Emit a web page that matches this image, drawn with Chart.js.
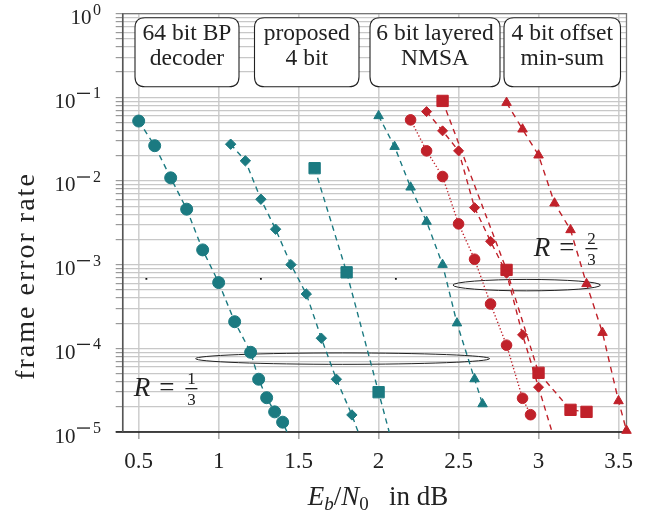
<!DOCTYPE html>
<html><head><meta charset="utf-8">
<script src="https://cdn.jsdelivr.net/npm/chart.js@4.4.0/dist/chart.umd.min.js"></script>
<style>html,body{margin:0;padding:0;background:#fff;overflow:hidden}#wrap{width:649px;height:513px}</style>
</head><body><div id="wrap"><canvas id="c" width="649" height="513"></canvas></div>
<script>
// ---------- data ----------
const xTicks = [0.5, 1, 1.5, 2, 2.5, 3, 3.5];
const xTickLabels = ['0.5', '1', '1.5', '2', '2.5', '3', '3.5'];
const yTickExponents = [0, -1, -2, -3, -4, -5];
const yTickLabels = ['10^0', '10^-1', '10^-2', '10^-3', '10^-4', '10^-5'];

// R = 1/3 (teal)
const snrBP13   = [0.5, 0.6, 0.7, 0.8, 0.9, 1.0, 1.1, 1.2, 1.25, 1.3, 1.35, 1.4, 1.45];
const ferBP13   = [0.052, 0.0264, 0.0109, 0.0046, 0.0015, 6.1e-4, 2.08e-4, 8.97e-5, 4.27e-5, 2.57e-5, 1.74e-5, 1.31e-5, 8e-6];
const snrProp13 = [1.075, 1.167, 1.264, 1.356, 1.452, 1.548, 1.642, 1.736, 1.833, 1.93];
const ferProp13 = [0.0275, 0.0174, 0.00605, 0.00265, 0.001, 4.46e-4, 1.32e-4, 4.27e-5, 1.6e-5, 5e-6];
const snrNMSA13 = [1.6, 1.8, 2.0, 2.2];
const ferNMSA13 = [0.0142, 8.1e-4, 2.99e-5, 1.1e-6];
const snrOMS13  = [2.0, 2.1, 2.2, 2.3, 2.4, 2.49, 2.6, 2.65];
const ferOMS13  = [0.0599, 0.0257, 0.0084, 0.00327, 0.001, 2.0e-4, 4.3e-5, 2.16e-5];

// R = 2/3 (red)
const snrBP23   = [2.2, 2.3, 2.4, 2.5, 2.6, 2.7, 2.8, 2.9, 2.95];
const ferBP23   = [0.0537, 0.0229, 0.0113, 0.00307, 0.00116, 3.39e-4, 1.09e-4, 2.53e-5, 1.61e-5];
const snrProp23 = [2.3, 2.4, 2.5, 2.6, 2.7, 2.8, 2.9, 3.0, 3.1];
const ferProp23 = [0.0674, 0.0397, 0.0229, 0.0048, 0.0019, 7.9e-4, 1.45e-4, 3.43e-5, 8e-6];
const snrNMSA23 = [2.4, 2.8, 3.0, 3.2, 3.3];
const ferNMSA23 = [0.0905, 8.65e-4, 5.1e-5, 1.84e-5, 1.74e-5];
const snrOMS23  = [2.8, 2.9, 3.0, 3.1, 3.2, 3.3, 3.4, 3.5, 3.55];
const ferOMS23  = [0.0863, 0.0415, 0.0203, 0.00542, 0.0026, 5.9e-4, 1.54e-4, 2.35e-5, 1.04e-5];

// small stray marks in the reference
const dotSnr = [0.548, 1.264, 2.108];
const dotFer = [6.75e-4, 6.75e-4, 6.75e-4];

// legend box texts
const legendTexts = [['64 bit BP', 'decoder'], ['proposed', '4 bit'], ['6 bit layered', 'NMSA'], ['4 bit offset', 'min-sum']];
// ellipses grouping the code rates: centre snr, centre fer, half width in dB
const groupSnr = [1.775, 2.926];
const groupFer = [7.53e-5, 5.69e-4];
const groupHalfWidth = [0.919, 0.461];
const rateNum = ['1', '2'];
const rateDen = ['3', '3'];

// ---------- styling ----------
const TEAL = '#1b7a81';
const RED = '#c0212a';
const SERIF = '"Liberation Serif", "DejaVu Serif", serif';

function pts(xs, ys) { return xs.map((v, i) => ({ x: v, y: ys[i] })); }
function series(xs, ys, color, style, r, dash, clipBottom) {
  return {
    data: pts(xs, ys), borderColor: color, backgroundColor: color,
    pointStyle: style, pointRadius: r, pointBorderWidth: 1, pointBorderColor: color,
    pointBackgroundColor: color, borderWidth: 1.4, borderDash: dash, tension: 0,
    fill: false, clip: { left: 12, right: 12, top: 12, bottom: clipBottom ? 0 : 12 }
  };
}
const DASH = [5.5, 4.5];
const datasets = [
  series(snrBP13, ferBP13, TEAL, 'circle', 6, DASH, true),
  series(snrProp13, ferProp13, TEAL, 'rectRot', 5.2, DASH, true),
  series(snrNMSA13, ferNMSA13, TEAL, 'rect', 8, DASH, true),
  series(snrOMS13, ferOMS13, TEAL, 'triangle', 5.5, DASH, false),
  series(snrBP23, ferBP23, RED, 'circle', 5.3, [1.3, 2.2], false),
  series(snrProp23, ferProp23, RED, 'rectRot', 5, DASH, true),
  series(snrNMSA23, ferNMSA23, RED, 'rect', 8, DASH, false),
  series(snrOMS23, ferOMS23, RED, 'triangle', 5.5, [6, 5], false),
  { data: pts(dotSnr, dotFer), showLine: false, pointStyle: 'rect', pointRadius: 1.3,
    pointBorderWidth: 0, pointBackgroundColor: '#111', borderColor: '#111' }
];

function drawRate(ctx, left, base, num, den) {
  ctx.fillStyle = '#222';
  ctx.textBaseline = 'alphabetic';
  ctx.textAlign = 'left';
  ctx.font = 'italic 27px ' + SERIF;
  ctx.fillText('R', left, base);
  const wR = ctx.measureText('R').width;
  ctx.font = '27px ' + SERIF;
  ctx.fillText('=', left + wR + 9, base);
  const wE = ctx.measureText('=').width;
  const fx = left + wR + 9 + wE + 11;
  ctx.font = '17px ' + SERIF;
  ctx.textAlign = 'center';
  const fw = 12;
  ctx.fillText(num, fx + fw / 2, base - 12);
  ctx.fillText(den, fx + fw / 2, base + 9);
  ctx.fillRect(fx, base - 8, fw, 1.3);
}

function roundRect(ctx, x, y, w, h, r) {
  ctx.beginPath();
  ctx.moveTo(x + r, y); ctx.lineTo(x + w - r, y); ctx.quadraticCurveTo(x + w, y, x + w, y + r);
  ctx.lineTo(x + w, y + h - r); ctx.quadraticCurveTo(x + w, y + h, x + w - r, y + h);
  ctx.lineTo(x + r, y + h); ctx.quadraticCurveTo(x, y + h, x, y + h - r);
  ctx.lineTo(x, y + r); ctx.quadraticCurveTo(x, y, x + r, y); ctx.closePath();
}

const overlay = {
  id: 'overlay',
  beforeDatasetsDraw(chart) {
    const { ctx, chartArea: a, scales: { x, y } } = chart;
    ctx.save();
    // frame
    ctx.lineWidth = 1.3;
    ctx.strokeStyle = '#777';
    ctx.beginPath();
    ctx.moveTo(a.left, a.bottom); ctx.lineTo(a.left, a.top); ctx.lineTo(a.right, a.top); ctx.lineTo(a.right, a.bottom);
    ctx.stroke();
    ctx.strokeStyle = '#111';
    ctx.lineWidth = 1.5;
    ctx.beginPath(); ctx.moveTo(a.left - 7, a.bottom); ctx.lineTo(a.right, a.bottom); ctx.stroke();
    ctx.strokeStyle = '#555';
    ctx.beginPath(); ctx.moveTo(a.left, a.bottom); ctx.lineTo(a.left, a.top); ctx.stroke();
    // ellipses
    ctx.strokeStyle = '#222';
    ctx.lineWidth = 1;
    groupSnr.forEach((s, i) => {
      const cx = x.getPixelForValue(s), cy = y.getPixelForValue(groupFer[i]);
      const rx = x.getPixelForValue(s + groupHalfWidth[i]) - cx;
      ctx.beginPath(); ctx.ellipse(cx, cy, rx, 5.7, 0, 0, Math.PI * 2); ctx.stroke();
    });
    // code rate labels
    drawRate(ctx, a.left + 11, 396, rateNum[0], rateDen[0]);
    drawRate(ctx, a.left + 411, 256, rateNum[1], rateDen[1]);
    ctx.restore();
  },
  afterDatasetsDraw(chart) {
    const { ctx } = chart;
    ctx.save();
    const boxes = [[135, 239], [254.5, 359], [370, 500], [504, 620.5]];
    ctx.font = '23.5px ' + SERIF;
    ctx.textAlign = 'center';
    ctx.textBaseline = 'alphabetic';
    boxes.forEach((b, i) => {
      roundRect(ctx, b[0], 17.7, b[1] - b[0], 69, 10);
      ctx.fillStyle = '#fff'; ctx.fill();
      ctx.strokeStyle = '#222'; ctx.lineWidth = 1.1; ctx.stroke();
      ctx.fillStyle = '#222';
      const cx = (b[0] + b[1]) / 2;
      ctx.fillText(legendTexts[i][0], cx, 39.5);
      ctx.fillText(legendTexts[i][1], cx, 65);
    });
    ctx.restore();
  },
  afterDraw(chart) {
    const { ctx, scales: { y } } = chart;
    ctx.save();
    ctx.fillStyle = '#222';
    ctx.textBaseline = 'alphabetic';
    // y tick labels 10^k (base and exponent parts of yTickLabels)
    yTickLabels.forEach((lab, i) => {
      const [base, expo] = lab.split('^');
      const py = y.getPixelForValue(Math.pow(10, yTickExponents[i]));
      const right = 101;
      ctx.font = '16px ' + SERIF;
      ctx.textAlign = 'right';
      const digits = expo.replace('-', '');
      ctx.fillText(digits, right, py + 1);
      let ew = ctx.measureText(digits).width;
      if (expo.startsWith('-')) {
        ctx.fillRect(right - ew - 3 - 13, py - 4.6, 13, 1.3);
        ew += 16;
      }
      ctx.font = '21px ' + SERIF;
      ctx.fillText(base, right - ew - 1.5, py + 10.5);
    });
    // y title
    ctx.save();
    ctx.translate(34, 276);
    ctx.rotate(-Math.PI / 2);
    ctx.textAlign = 'center';
    ctx.font = '28px ' + SERIF;
    try { ctx.letterSpacing = '2px'; } catch (e) {}
    ctx.fillText('frame error rate', 0, 0);
    try { ctx.letterSpacing = '0px'; } catch (e) {}
    ctx.restore();
    // x title  E_b/N_0 in dB
    const parts = [
      ['italic 27px ' + SERIF, 'E', 0],
      ['italic 19px ' + SERIF, 'b', 4.5],
      ['27px ' + SERIF, '/', 0],
      ['italic 27px ' + SERIF, 'N', 0],
      ['19px ' + SERIF, '0', 4.5],
      ['27px ' + SERIF, '\u2002 in dB', 0]
    ];
    let total = 0;
    parts.forEach(p => { ctx.font = p[0]; total += ctx.measureText(p[1]).width; });
    let px = 378 - total / 2;
    ctx.textAlign = 'left';
    parts.forEach(p => { ctx.font = p[0]; ctx.fillText(p[1], px, 505 + p[2]); px += ctx.measureText(p[1]).width; });
    ctx.restore();
  }
};

new Chart(document.getElementById('c'), {
  type: 'line',
  data: { datasets },
  options: {
    responsive: false, animation: false, events: [],
    layout: { padding: { left: 0, right: 22.5, top: 13.6, bottom: 0 } },
    plugins: { legend: { display: false }, tooltip: { enabled: false } },
    scales: {
      x: {
        type: 'linear', min: 0.4, max: 3.55,
        afterBuildTicks: s => { s.ticks = xTicks.map(v => ({ value: v })); },
        afterFit: s => { s.height = 81; },
        border: { display: false },
        grid: { color: '#d0d0d0', lineWidth: 1.6, tickLength: 7, tickColor: '#aaa', tickWidth: 1.6 },
        ticks: {
          autoSkip: false, maxRotation: 0, padding: 9, color: '#222',
          font: { family: SERIF, size: 23 },
          callback: (v, i) => xTickLabels[i]
        }
      },
      y: {
        type: 'logarithmic', min: 1e-5, max: 1,
        afterBuildTicks: s => {
          const t = [];
          for (let e = -5; e <= 0; e++) {
            for (let m = 1; m <= 9; m++) { const v = m * Math.pow(10, e); if (v <= 1.0000001) t.push({ value: v }); }
          }
          s.ticks = t;
        },
        afterFit: s => { s.width = 122.7; },
        border: { display: false },
        grid: { color: '#c8c8c8', lineWidth: 1.2, tickLength: 7, tickColor: '#999' },
        ticks: { display: false }
      }
    }
  },
  plugins: [overlay]
});
</script>
</body></html>
